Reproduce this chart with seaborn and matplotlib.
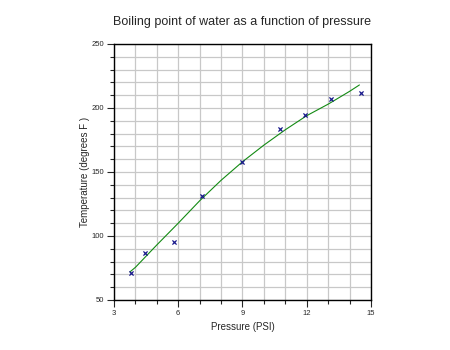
import numpy as np
import pandas as pd
import matplotlib.pyplot as plt
import seaborn as sns
from matplotlib.ticker import MultipleLocator

pressure = [3.8, 4.45, 5.8, 7.12, 9.0, 10.73, 11.93, 13.12, 14.54]
temperature = [71, 86.5, 95, 131, 158, 183.5, 194.8, 207, 211.5]

# fitted curve, sampled along the green line
fit_pressure = [3.75, 4, 5, 6, 7, 8, 9, 10, 11, 12, 13, 14, 14.46]
fit_temperature = [72, 75.5, 93, 110, 127.5, 143.5, 158, 171, 183, 194, 203, 213, 218]

points = pd.DataFrame({'pressure': pressure, 'temperature': temperature})
fit = pd.DataFrame({'pressure': fit_pressure, 'temperature': fit_temperature})

sns.set_style('white')
plt.rcParams['font.family'] = ['Liberation Sans', 'DejaVu Sans']

fig = plt.figure(figsize=(4.5, 3.5), dpi=100)
ax = fig.add_axes([0.2533, 0.1429, 0.5711, 0.7314])

sns.lineplot(data=fit, x='pressure', y='temperature', color='#138a13',
             linewidth=0.8, ax=ax, zorder=3)
sns.scatterplot(data=points, x='pressure', y='temperature', marker='x',
                color='#1a1a8c', s=9, linewidth=0.9, ax=ax, zorder=4)

ax.set_xlim(3, 15)
ax.set_ylim(50, 250)
ax.xaxis.set_major_locator(MultipleLocator(3))
ax.xaxis.set_minor_locator(MultipleLocator(1))
ax.yaxis.set_major_locator(MultipleLocator(50))
ax.yaxis.set_minor_locator(MultipleLocator(10))

ax.grid(True, which='both', color='#c8c8c8', linewidth=0.9)
ax.set_axisbelow(True)
for s in ax.spines.values():
    s.set_color('black')
    s.set_linewidth(1.0)

ax.tick_params(which='major', direction='out', length=5, width=0.8,
               labelsize=5.5, pad=2, left=True, bottom=True)
ax.tick_params(which='minor', direction='out', length=3, width=0.8,
               left=True, bottom=True)

ax.set_xlabel('Pressure (PSI)', fontsize=7, labelpad=4)
ax.set_ylabel('Temperature (degrees F )', fontsize=7, labelpad=1)
ax.set_title('Boiling point of water as a function of pressure', fontsize=9,
             pad=14)

plt.savefig('out.png', dpi=100)
plt.close()
